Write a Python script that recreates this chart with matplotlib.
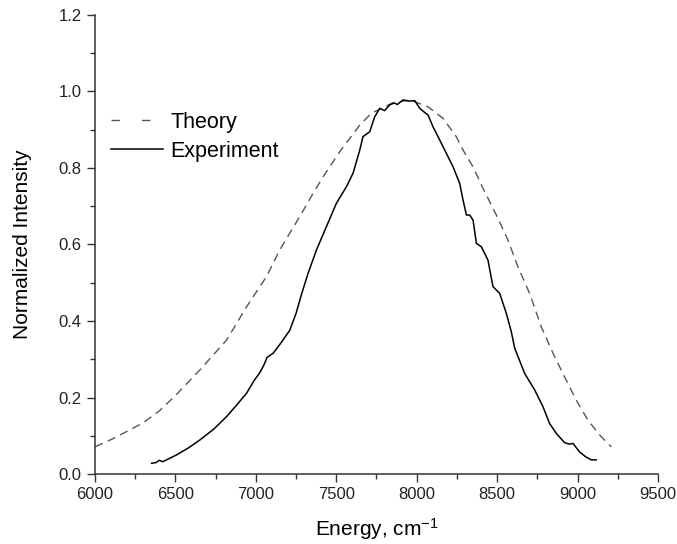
import matplotlib
matplotlib.use('Agg')
import matplotlib.pyplot as plt
from matplotlib.lines import Line2D
from matplotlib.ticker import MultipleLocator

plt.rcParams['font.family'] = ['Liberation Sans', 'DejaVu Sans']
plt.rcParams['mathtext.default'] = 'regular'

# theory curve
theory_x = [6000, 6100, 6197, 6300, 6400, 6500, 6652, 6818, 6942, 7066, 7149,
            7284, 7356, 7418, 7522, 7646, 7718, 7850, 7957, 8070, 8163, 8246,
            8288, 8350, 8412, 8495, 8567, 8629, 8702, 8774, 8847, 8919, 8992,
            9064, 9137, 9209]
theory_y = [0.071, 0.090, 0.111, 0.134, 0.165, 0.205, 0.272, 0.350, 0.437,
            0.516, 0.586, 0.681, 0.734, 0.777, 0.843, 0.912, 0.943, 0.970,
            0.978, 0.960, 0.930, 0.882, 0.847, 0.803, 0.747, 0.677, 0.612,
            0.542, 0.472, 0.385, 0.316, 0.254, 0.193, 0.141, 0.102, 0.071]

# experiment curve
exp_x = [6352, 6380, 6400, 6420, 6450, 6507, 6580, 6652, 6740, 6818, 6880,
         6942, 6990, 7025, 7050, 7070, 7108, 7160, 7211, 7250, 7284, 7325,
         7377, 7439, 7501, 7563, 7604, 7646, 7666, 7708, 7739, 7770, 7800,
         7832, 7860, 7880, 7915, 7950, 7988, 8019, 8050, 8070, 8101, 8135,
         8174, 8226, 8267, 8288, 8309, 8329, 8350, 8371, 8402, 8443, 8474,
         8516, 8557, 8588, 8609, 8671, 8733, 8785, 8826, 8870, 8919, 8950,
         8971, 9012, 9050, 9085, 9116]
exp_y = [0.028, 0.030, 0.036, 0.032, 0.038, 0.050, 0.068, 0.089, 0.118,
         0.150, 0.180, 0.211, 0.245, 0.265, 0.285, 0.305, 0.316, 0.345,
         0.376, 0.420, 0.470, 0.525, 0.586, 0.647, 0.708, 0.751, 0.786,
         0.847, 0.882, 0.895, 0.934, 0.956, 0.950, 0.965, 0.970, 0.966,
         0.978, 0.975, 0.976, 0.956, 0.945, 0.939, 0.908, 0.880, 0.847,
         0.803, 0.760, 0.716, 0.677, 0.677, 0.664, 0.603, 0.594, 0.559,
         0.490, 0.472, 0.420, 0.372, 0.329, 0.263, 0.220, 0.176, 0.132,
         0.105, 0.082, 0.078, 0.080, 0.058, 0.045, 0.037, 0.037]

fig = plt.figure(figsize=(6.77, 5.44), dpi=100)
ax = fig.add_axes([95 / 677, 70 / 544, 563 / 677, 459 / 544])

theory_color = '#555555'
ax.plot(theory_x, theory_y, color=theory_color, lw=1.0, dashes=(6, 4))
ax.plot(exp_x, exp_y, color='black', lw=1.1)

ax.set_xlim(6000, 9500)
ax.set_ylim(0, 1.2)
ax.xaxis.set_major_locator(MultipleLocator(500))
ax.xaxis.set_minor_locator(MultipleLocator(250))
ax.yaxis.set_major_locator(MultipleLocator(0.2))
ax.yaxis.set_minor_locator(MultipleLocator(0.1))
ax.yaxis.set_major_formatter(plt.FuncFormatter(lambda v, p: f'{v:.1f}'))

for s in ['top', 'right']:
    ax.spines[s].set_visible(False)
for s in ['left', 'bottom']:
    ax.spines[s].set_color('#333333')
    ax.spines[s].set_linewidth(1.1)

ax.tick_params(which='major', direction='out', length=6, width=1.0,
               color='#333333', labelsize=12, labelcolor='#222222')
ax.tick_params(which='minor', direction='out', length=3.5, width=1.0,
               color='#333333')

ax.set_xlabel(r'Energy, cm$^{-1}$', fontsize=15, labelpad=10)
ax.set_ylabel('Normalized Intensity', fontsize=15, labelpad=19)

# legend handles drawn like the original (two long-gap dashes)
handles = [Line2D([], [], color=theory_color, lw=1.0, dashes=(6, 16)),
           Line2D([], [], color='black', lw=1.1)]
ax.legend(handles, ['Theory', 'Experiment'], loc='upper left',
          bbox_to_anchor=(111 / 677, 1 - 112 / 544),
          bbox_transform=fig.transFigure, frameon=False, fontsize=15.5,
          handlelength=2.4, handletextpad=0.35, labelspacing=0.35,
          borderpad=0, borderaxespad=0)

fig.savefig('out.png', dpi=100)
